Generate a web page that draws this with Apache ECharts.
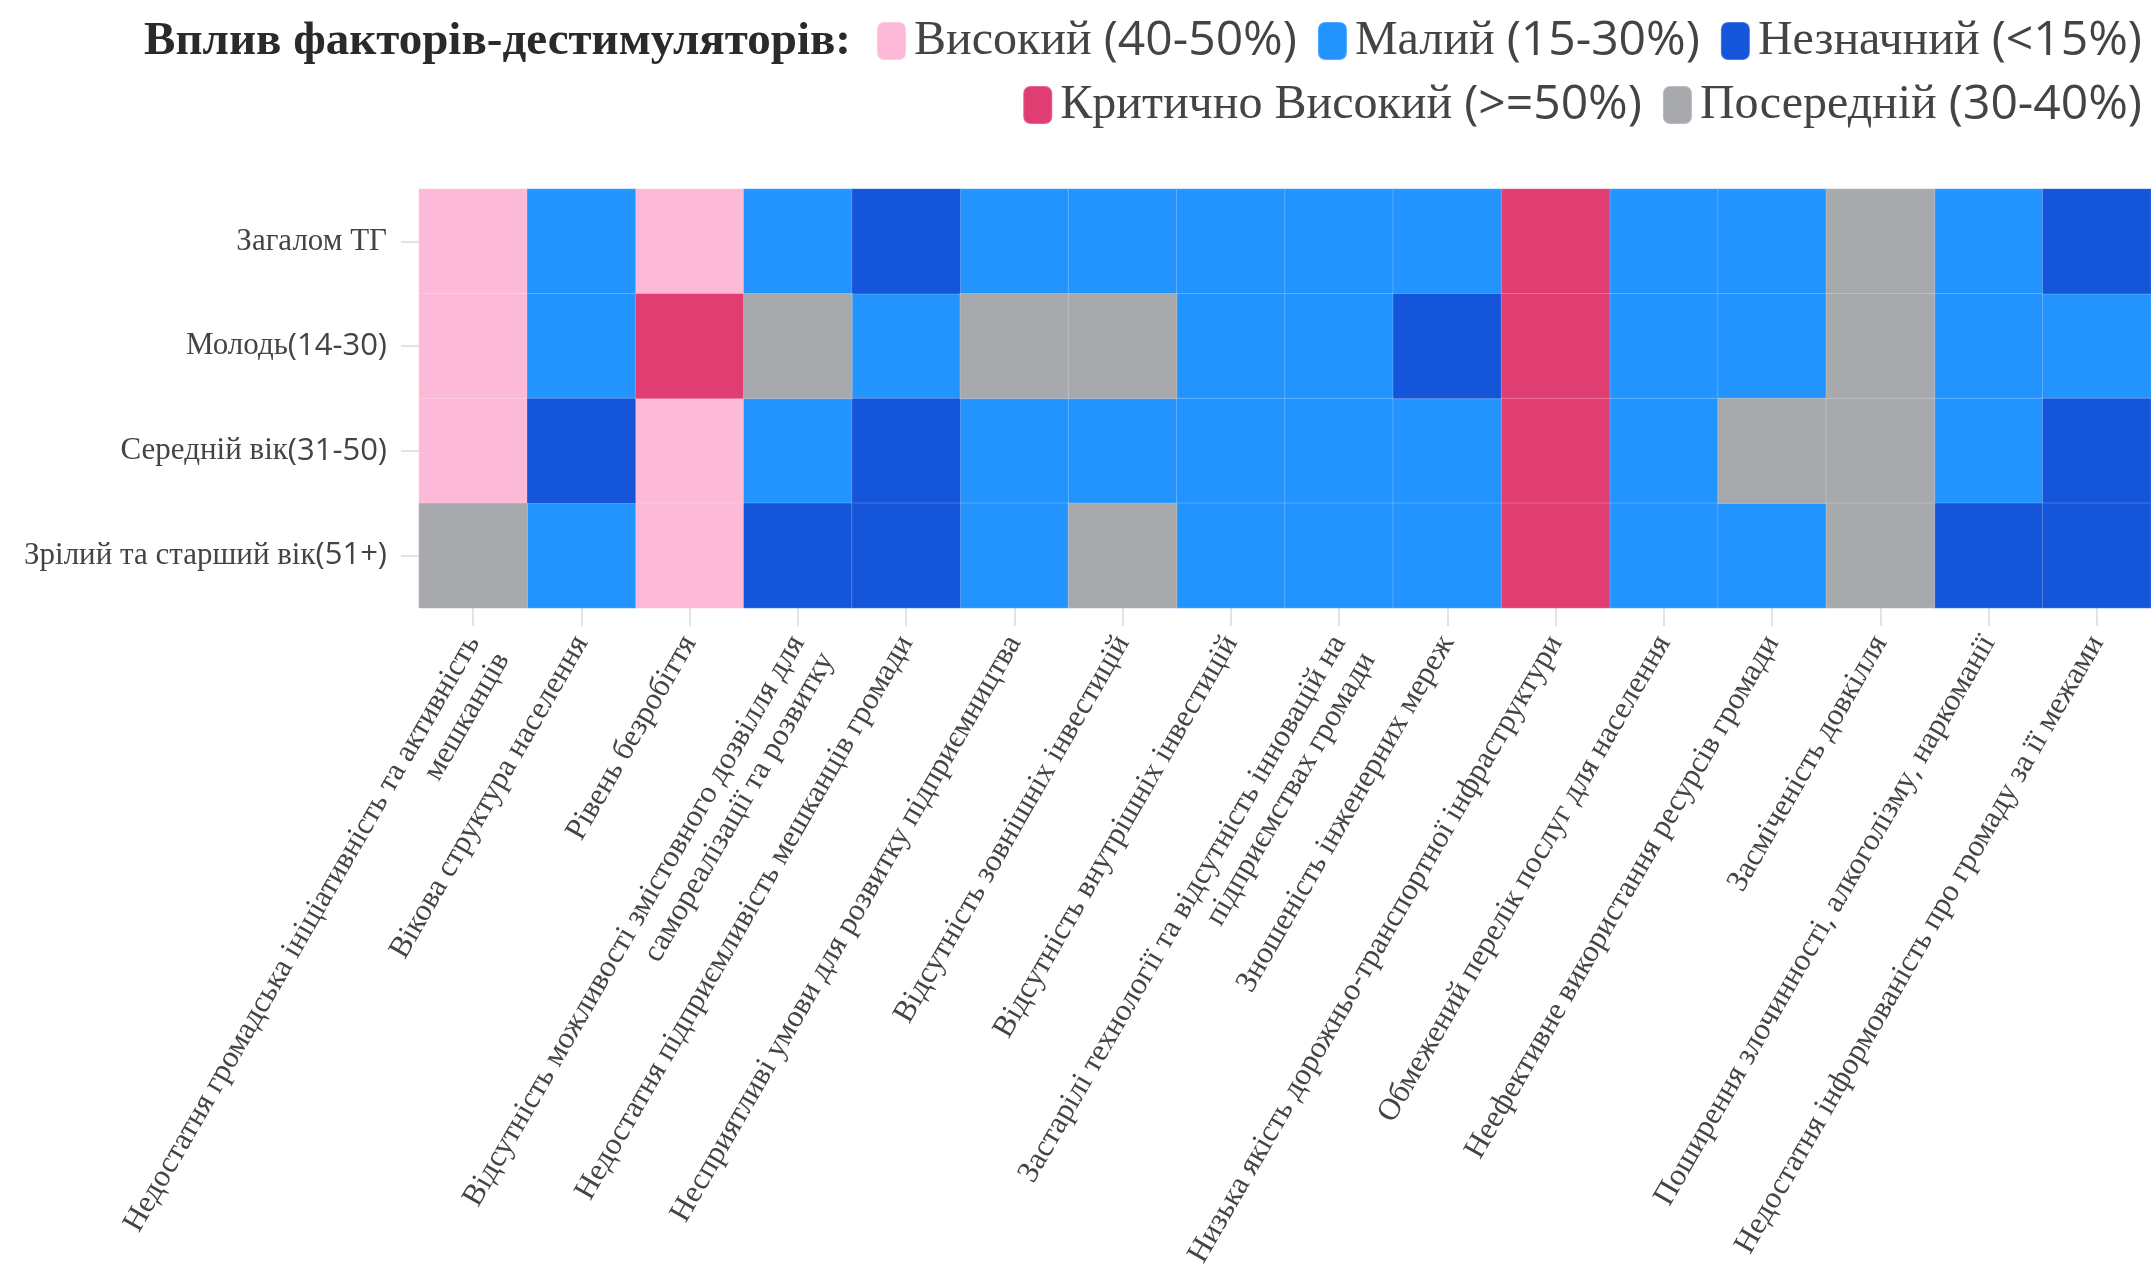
<!DOCTYPE html>
<html>
<head>
<meta charset="utf-8">
<script src="https://cdn.jsdelivr.net/npm/echarts@6/dist/echarts.min.js"></script>
<style>
html,body{margin:0;padding:0;background:#fff;}
#chart{width:2151px;height:1276px;}
</style>
</head>
<body>
<div id="chart"></div>
<script>
// ---- data ----
const factors = [
  "Недостатня громадська ініціативність та активність\nмешканців",
  "Вікова структура населення",
  "Рівень безробіття",
  "Відсутність можливості змістовного дозвілля для\nсамореалізації та розвитку",
  "Недостатня підприємливість мешканців громади",
  "Несприятливі умови для розвитку підприємництва",
  "Відсутність зовнішніх інвестицій",
  "Відсутність внутрішніх інвестицій",
  "Застарілі технології та відсутність інновацій на\nпідприємствах громади",
  "Зношеність інженерних мереж",
  "Низька якість дорожньо-транспортної інфраструктури",
  "Обмежений перелік послуг для населення",
  "Неефективне використання ресурсів громади",
  "Засміченість довкілля",
  "Поширення злочинності, алкоголізму, наркоманії",
  "Недостатня інформованість про громаду за її межами"
];
const groups = ["Загалом ТГ", "Молодь(14-30)", "Середній вік(31-50)", "Зрілий та старший вік(51+)"];

// level codes: H = Високий, M = Малий, N = Незначний, C = Критично Високий, P = Посередній
const rowTotal  = ["H","M","H","M","N","M","M","M","M","M","C","M","M","P","M","N"];
const rowYouth  = ["H","M","C","P","M","P","P","M","M","N","C","M","M","P","M","M"];
const rowMiddle = ["H","N","H","M","N","M","M","M","M","M","C","M","P","P","M","N"];
const rowSenior = ["P","M","H","N","N","M","P","M","M","M","C","M","M","P","N","N"];
const matrix = [rowTotal, rowYouth, rowMiddle, rowSenior];

const levelCodes  = ["H", "M", "N", "C", "P"];
const levelNames  = ["Високий (40-50%)", "Малий (15-30%)", "Незначний (<15%)", "Критично Високий (>=50%)", "Посередній (30-40%)"];
const levelColors = ["#fdb9d8", "#2394fd", "#1455da", "#e03d72", "#a7a9ac"];
const legendTitle = "Вплив факторів-дестимуляторів:";

// ---- helpers: Cyrillic in serif, Latin/digits in sans (as in the source render) ----
const SERIF = "'Liberation Serif', 'DejaVu Serif', serif";
const SANS = "'Open Sans', sans-serif";
function richLine(line) {
  let out = '', cur = null, buf = '';
  for (const ch of line) {
    let t;
    if (ch === ' ') t = cur || 's';
    else t = /[\u0400-\u04FF]/.test(ch) ? 's' : 'd';
    if (t !== cur && buf) { out += '{' + cur + '|' + buf + '}'; buf = ''; }
    cur = t; buf += ch;
  }
  if (buf) out += '{' + cur + '|' + buf + '}';
  return out;
}
function richify(str) {
  return str.split('\n').map(richLine).join('\n');
}
// multi-line tick labels: keep the first line on the tick (blank line above balances the block)
function richTick(str) {
  const lines = str.split('\n');
  const pad = [];
  for (let i = 1; i < lines.length; i++) pad.push('{s| }');
  return pad.concat(lines.map(richLine)).join('\n');
}
function richStyles(size, color, lh) {
  return {
    s: { fontFamily: SERIF, fontSize: size, color: color, lineHeight: lh },
    d: { fontFamily: SANS, fontSize: size, color: color, lineHeight: lh }
  };
}

// ---- chart ----
const chart = echarts.init(document.getElementById('chart'));

const series = levelCodes.map((code, k) => {
  const data = [];
  matrix.forEach((row, yi) => row.forEach((c, xi) => { if (c === code) data.push([xi, yi, 1]); }));
  return {
    type: 'heatmap',
    name: levelNames[k],
    data: data,
    itemStyle: { color: levelColors[k], borderColor: 'rgba(255,255,255,0.22)', borderWidth: 1 },
    emphasis: { disabled: true }
  };
});

const legendCommon = {
  orient: 'horizontal',
  right: 4,
  icon: 'roundRect',
  itemWidth: 29,
  itemHeight: 38,
  itemGap: 20,
  formatter: name => richify(name),
  textStyle: { fontSize: 48, color: '#444', padding: [0, 0, 0, 3], rich: richStyles(48, '#444', 53) },
  selectedMode: false
};

chart.setOption({
  backgroundColor: '#fff',
  animation: false,
  graphic: [{
    type: 'text',
    x: 851, y: 42,
    style: { text: legendTitle, font: "bold 47px 'Liberation Serif', serif", fill: '#2a2a2a', align: 'right', verticalAlign: 'middle' }
  }],
  legend: [
    Object.assign({}, legendCommon, { top: 12, data: levelNames.slice(0, 3) }),
    Object.assign({}, legendCommon, { top: 76, data: levelNames.slice(3) })
  ],
  grid: { left: 419, right: 0, top: 189, bottom: 668 },
  xAxis: {
    type: 'category',
    data: factors,
    axisLine: { show: false },
    axisTick: { show: true, alignWithLabel: true, length: 18, lineStyle: { color: '#e3e3e3', width: 2 } },
    axisLabel: { interval: 0, rotate: 60, margin: 30, fontSize: 31, lineHeight: 34, color: '#444',
      formatter: v => richTick(v), rich: richStyles(31, '#444', 34) },
    splitLine: { show: false }
  },
  yAxis: {
    type: 'category',
    data: groups,
    inverse: true,
    axisLine: { show: false },
    axisTick: { show: true, alignWithLabel: true, length: 18, lineStyle: { color: '#e3e3e3', width: 2 } },
    axisLabel: { margin: 32, fontSize: 31, color: '#444',
      formatter: v => richify(v), rich: richStyles(31, '#444', 34) },
    splitLine: { show: false }
  },
  series: series
});
</script>
</body>
</html>
